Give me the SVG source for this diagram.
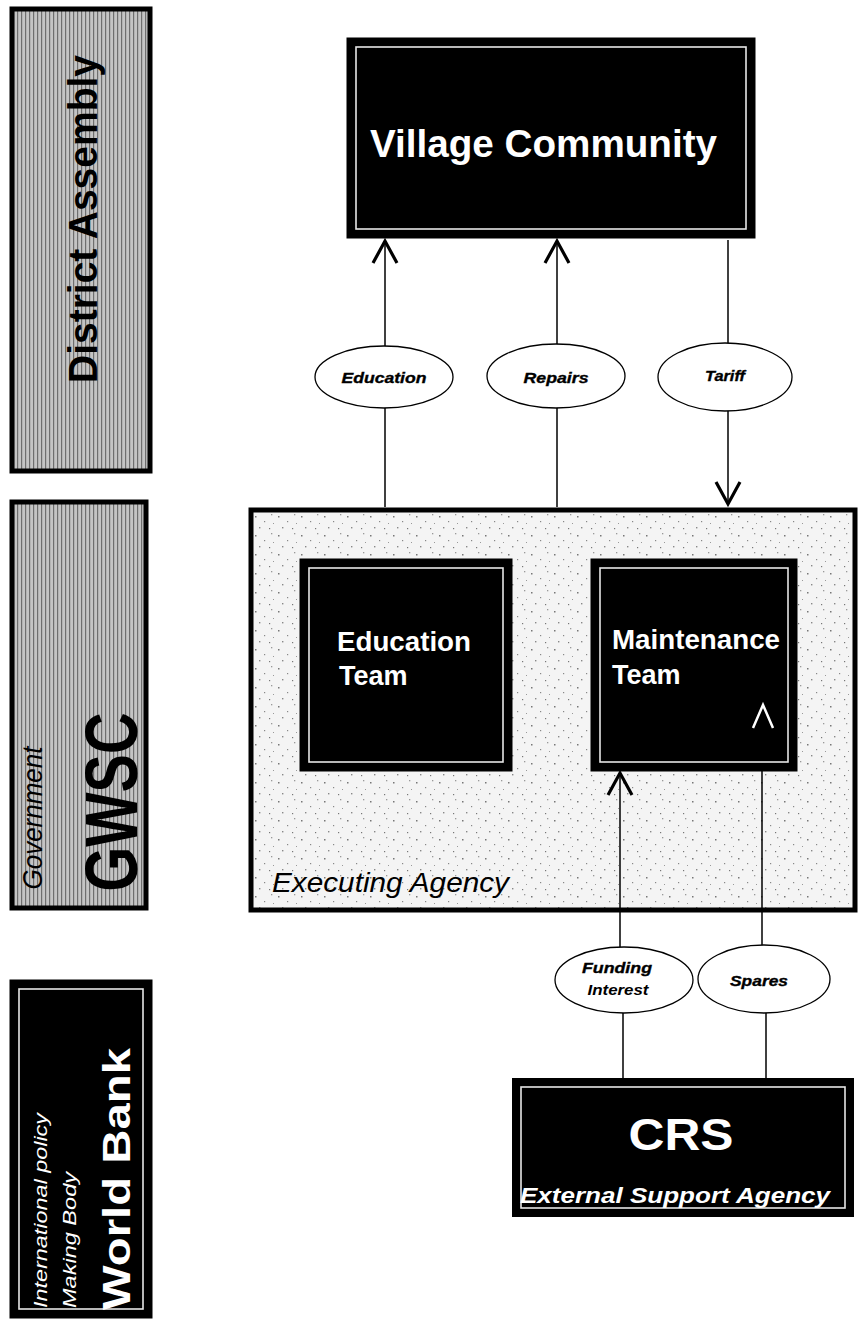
<svg xmlns="http://www.w3.org/2000/svg" width="862" height="1322" viewBox="0 0 862 1322">
<defs>
<style>
.t{font-family:"Liberation Sans",Arial,sans-serif;}
.box{stroke:#000;stroke-width:5;}
.blk{fill:#000;stroke:#000;stroke-width:5;}
.inner{fill:none;stroke:#e6e6e6;stroke-width:1.6;}
.ln{stroke:#000;stroke-width:1.5;fill:none;}
.ell{fill:#fff;stroke:#000;stroke-width:1.3;}
.lab{font-family:"Liberation Sans",Arial,sans-serif;font-weight:bold;font-style:italic;font-size:15px;text-anchor:middle;fill:#000;stroke:#000;stroke-width:0.35;}
.wt{fill:#fff;font-family:"Liberation Sans",Arial,sans-serif;font-weight:bold;}
</style>
<pattern id="hatch" width="4" height="4" patternUnits="userSpaceOnUse">
<rect width="4" height="4" fill="#c4c4c4"/>
<rect x="1" width="1.2" height="4" fill="#6e6e6e"/>
</pattern>
<pattern id="speck" width="23" height="19" patternUnits="userSpaceOnUse">
<rect width="23" height="19" fill="#f4f4f4"/>
<rect x="2" y="3" width="1.5" height="1.5" fill="#777"/>
<rect x="11" y="8" width="1.2" height="1.2" fill="#888"/>
<rect x="18" y="1" width="1.3" height="1.3" fill="#999"/>
<rect x="6" y="14" width="1.4" height="1.4" fill="#888"/>
<rect x="16" y="15" width="1.2" height="1.2" fill="#777"/>
<rect x="20" y="10" width="1" height="1" fill="#999"/>
</pattern>
<marker id="arr" markerUnits="userSpaceOnUse" markerWidth="30" markerHeight="30" viewBox="-26 -15 30 30" refX="0" refY="0" orient="auto">
<path d="M-22,-12 L0,0 L-22,12" fill="none" stroke="#000" stroke-width="3.2"/>
</marker>
</defs>
<rect width="862" height="1322" fill="#fff"/>

<g id="district-assembly">
<rect class="box" x="12" y="9" width="138" height="462" fill="url(#hatch)"/>
<text class="t" transform="translate(97,219) rotate(-90)" text-anchor="middle" font-size="40" font-weight="bold" textLength="328" lengthAdjust="spacingAndGlyphs">District Assembly</text>
</g>

<g id="gwsc">
<rect class="box" x="12" y="502" width="134" height="406" fill="url(#hatch)"/>
<text class="t" transform="translate(42,818) rotate(-90)" text-anchor="middle" font-size="28" font-style="italic" textLength="143" lengthAdjust="spacingAndGlyphs">Government</text>
<text class="t" transform="translate(137,802) rotate(-90)" text-anchor="middle" font-size="74" font-weight="bold" textLength="179" lengthAdjust="spacingAndGlyphs">GWSC</text>
</g>

<g id="world-bank">
<rect class="blk" x="12" y="982" width="138" height="334"/>
<rect class="inner" x="19" y="989" width="124" height="320"/>
<text class="t" transform="translate(47,1308) rotate(-90)" font-size="19" font-style="italic" fill="#fff" textLength="195" lengthAdjust="spacingAndGlyphs">International policy</text>
<text class="t" transform="translate(76,1308) rotate(-90)" font-size="19" font-style="italic" fill="#fff" textLength="136" lengthAdjust="spacingAndGlyphs">Making Body</text>
<text class="t" transform="translate(130,1310) rotate(-90)" font-size="38" font-weight="bold" fill="#fff" textLength="262" lengthAdjust="spacingAndGlyphs">World Bank</text>
</g>

<g id="village-community">
<rect class="blk" x="349" y="40" width="404" height="196"/>
<rect class="inner" x="356" y="47" width="390" height="182"/>
<text class="wt" x="370" y="157" font-size="38" textLength="347" lengthAdjust="spacingAndGlyphs">Village Community</text>
</g>

<g id="executing-agency">
<rect class="box" x="251" y="510" width="604" height="400" fill="url(#speck)" stroke-width="6"/>
<text class="t" x="272" y="892" font-size="27" font-style="italic" textLength="237" lengthAdjust="spacingAndGlyphs">Executing Agency</text>
</g>

<g id="education-team">
<rect class="blk" x="302" y="561" width="208" height="208" stroke-width="6"/>
<rect class="inner" x="309" y="568" width="194" height="194"/>
<text class="wt" x="337" y="651" font-size="27" textLength="134" lengthAdjust="spacingAndGlyphs">Education</text>
<text class="wt" x="339" y="685" font-size="27">Team</text>
</g>

<g id="maintenance-team">
<rect class="blk" x="593" y="561" width="202" height="208" stroke-width="6"/>
<rect class="inner" x="600" y="568" width="188" height="194"/>
<text class="wt" x="612" y="649" font-size="27" textLength="168" lengthAdjust="spacingAndGlyphs">Maintenance</text>
<text class="wt" x="612" y="684" font-size="27">Team</text>
</g>

<g id="crs">
<rect class="blk" x="514.5" y="1080.5" width="337" height="134"/>
<rect class="inner" x="521" y="1087" width="324" height="121"/>
<text class="wt" x="681" y="1150" font-size="44" text-anchor="middle" textLength="105" lengthAdjust="spacingAndGlyphs">CRS</text>
<text class="wt" x="520" y="1203" font-size="22" font-style="italic" textLength="310" lengthAdjust="spacingAndGlyphs">External Support Agency</text>
</g>

<g id="connectors">
<line class="ln" x1="385" y1="507" x2="385" y2="241" marker-end="url(#arr)"/>
<line class="ln" x1="557" y1="507" x2="557" y2="241" marker-end="url(#arr)"/>
<line class="ln" x1="728" y1="240" x2="728" y2="504" marker-end="url(#arr)"/>
<line class="ln" x1="623" y1="1078" x2="623" y2="1013"/>
<line class="ln" x1="620" y1="947" x2="620" y2="773" marker-end="url(#arr)"/>
<line class="ln" x1="766" y1="1078" x2="766" y2="1013"/>
<line class="ln" x1="762" y1="945" x2="762" y2="771"/>
<path d="M753,728 L763,705 L773,728" fill="none" stroke="#fff" stroke-width="2.5"/>

<g id="label-education">
<ellipse class="ell" cx="384" cy="377" rx="69" ry="31"/>
<text class="lab" x="384" y="383" textLength="85" lengthAdjust="spacingAndGlyphs">Education</text>
</g>
<g id="label-repairs">
<ellipse class="ell" cx="556" cy="376" rx="69" ry="32"/>
<text class="lab" x="556" y="383" textLength="65" lengthAdjust="spacingAndGlyphs">Repairs</text>
</g>
<g id="label-tariff">
<ellipse class="ell" cx="725" cy="377" rx="67" ry="34"/>
<text class="lab" x="725" y="381" textLength="40" lengthAdjust="spacingAndGlyphs">Tariff</text>
</g>
<g id="label-funding">
<ellipse class="ell" cx="624" cy="980" rx="69" ry="33"/>
<text class="lab" x="617" y="973" textLength="70" lengthAdjust="spacingAndGlyphs">Funding</text>
<text class="lab" x="618" y="995" style="stroke-width:0" textLength="61" lengthAdjust="spacingAndGlyphs">Interest</text>
</g>
<g id="label-spares">
<ellipse class="ell" cx="764" cy="979" rx="66" ry="34"/>
<text class="lab" x="759" y="986" textLength="58" lengthAdjust="spacingAndGlyphs">Spares</text>
</g>
</g>
</svg>
